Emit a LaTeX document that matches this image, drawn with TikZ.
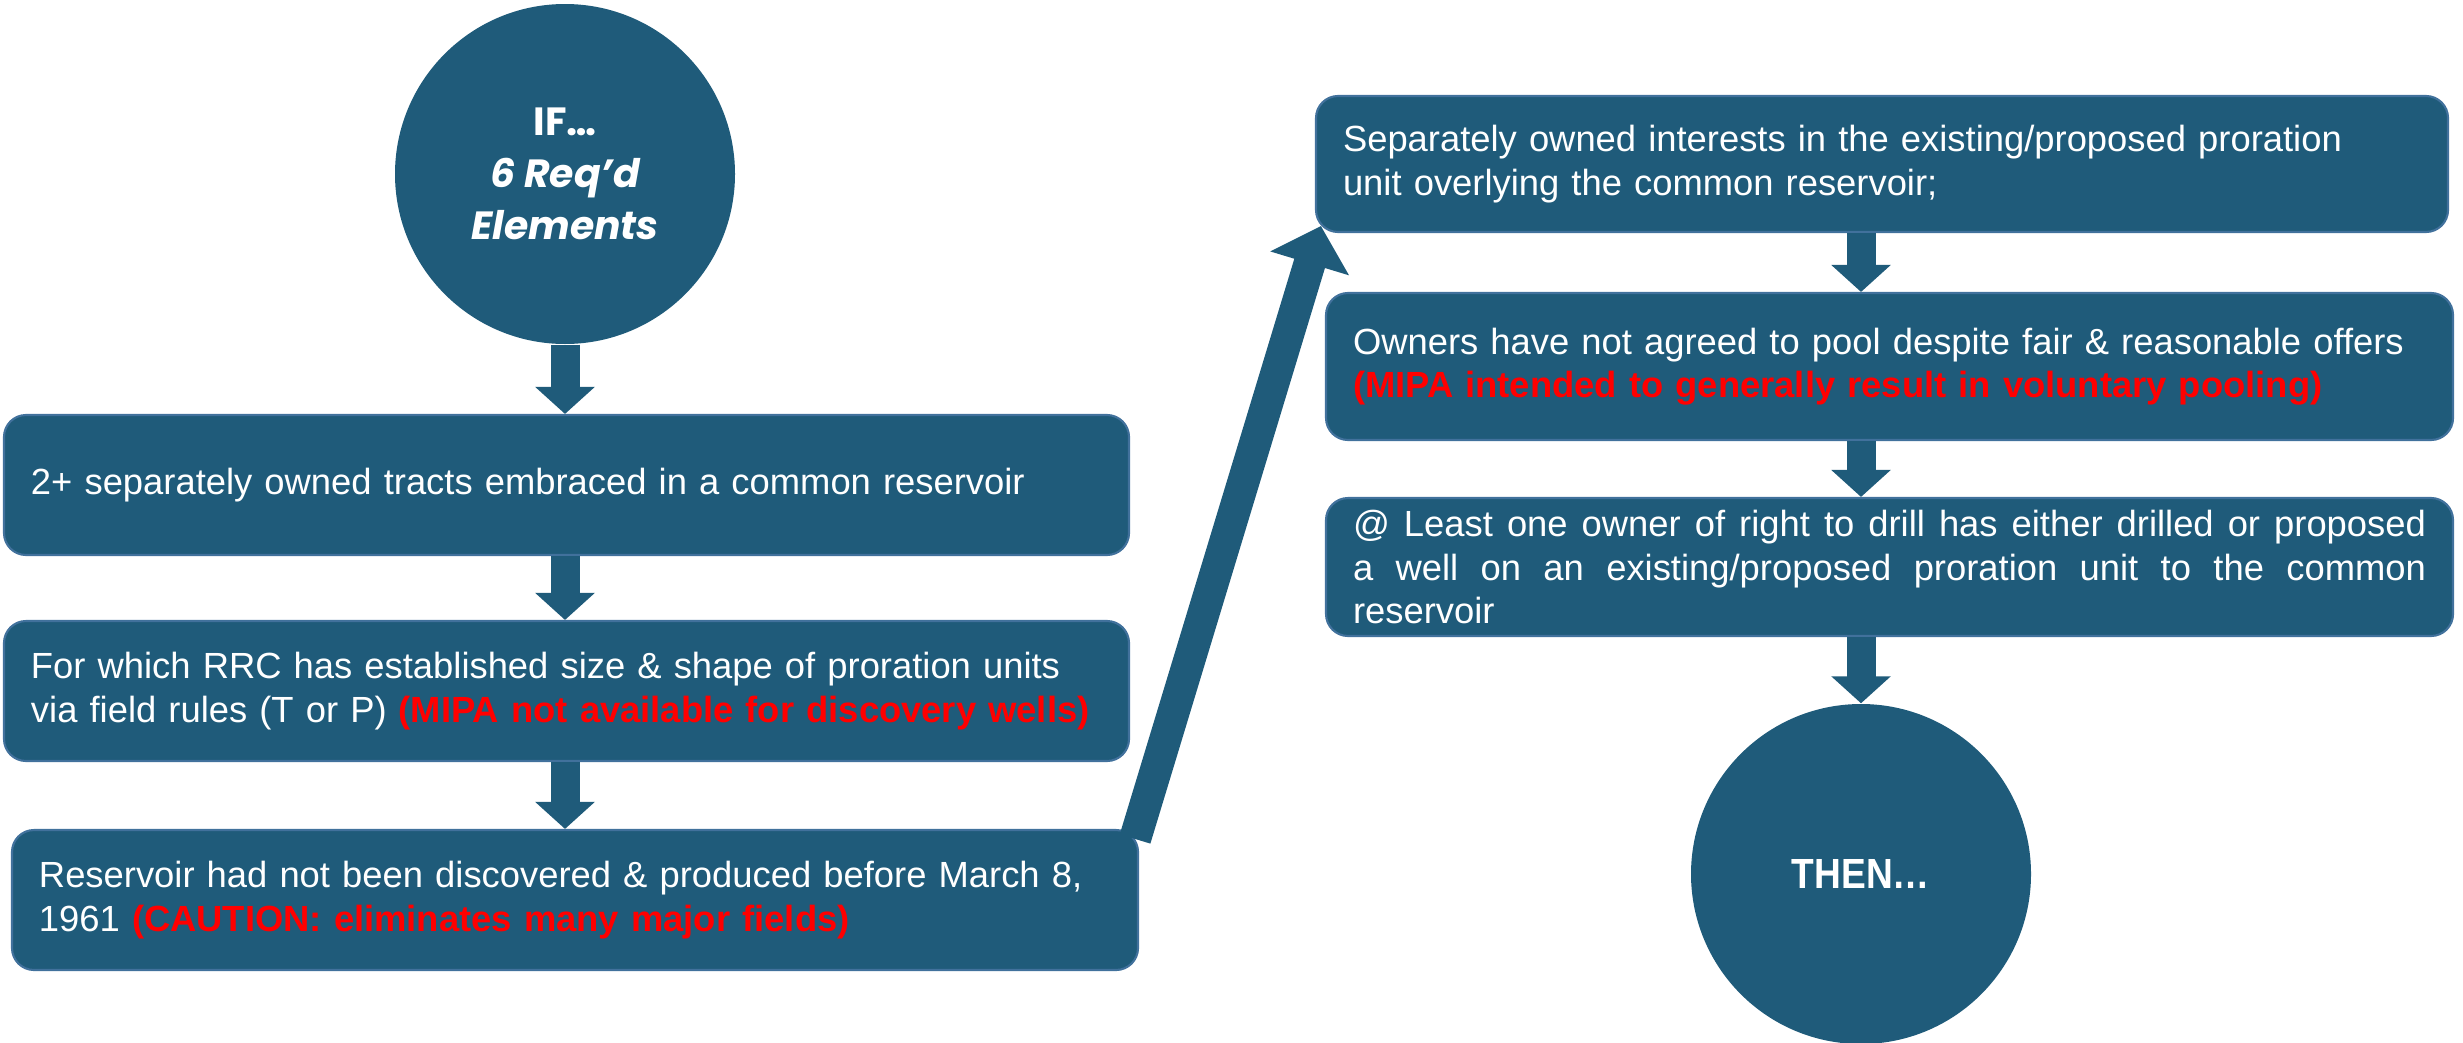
\documentclass[tikz,border=0pt]{standalone}
\usepackage{fontspec}
\setmainfont{Liberation Sans}
\newfontfamily\gothic{Poppins}
\usetikzlibrary{arrows.meta}

\definecolor{boxblue}{RGB}{31,91,122}
\definecolor{edgeblue}{RGB}{65,113,156}
\definecolor{warnred}{RGB}{255,0,0}
\newcommand{\warn}[1]{\textcolor{warnred}{\bfseries #1}}

\tikzset{
  stepbox/.style={draw=edgeblue, line width=0.6pt, fill=boxblue, rounded corners=0.22cm,
    text=white, inner xsep=0.27cm, inner ysep=0pt, align=left,
    font=\fontsize{10.35}{12.3}\selectfont},
  bubble/.style={circle, fill=boxblue, minimum size=3.4cm, inner sep=0pt,
    text=white, align=center},
  flow/.style={boxblue, line width=0.29cm, -{Triangle[width=0.58cm,length=0.27cm]}},
}

\begin{document}
\begin{tikzpicture}
  \useasboundingbox (0,0) rectangle (24.63,-10.42);

  % left column
  \node[bubble, font={\gothic\bfseries\fontsize{11.2}{14.8}\selectfont}] (if) at (5.65,-1.74)
    {IF…\\\itshape 6 Req’d\\\itshape Elements};
  \node[stepbox, minimum width=11.25cm, minimum height=1.4cm, text width=10.71cm] (b1) at (5.665,-4.85)
    {2+ separately owned tracts embraced in a common reservoir};
  \node[stepbox, minimum width=11.25cm, minimum height=1.4cm, text width=10.71cm] (b2) at (5.665,-6.91)
    {For which RRC has established size \& shape of proration units\\
     \mbox{via field rules (T or P) \warn{(MIPA not available for discovery wells)}}};
  \node[stepbox, minimum width=11.26cm, minimum height=1.4cm, text width=10.72cm] (b3) at (5.75,-9.00)
    {Reservoir had not been discovered \& produced before March 8,\\
     1961 \warn{(CAUTION: eliminates many major fields)}};

  % right column
  \node[stepbox, minimum width=11.32cm, minimum height=1.36cm, text width=10.78cm] (b4) at (18.82,-1.64)
    {Separately owned interests in the existing/proposed proration\\
     unit overlying the common reservoir;};
  \node[stepbox, minimum width=11.27cm, minimum height=1.47cm, text width=10.73cm] (b5) at (18.895,-3.665)
    {Owners have not agreed to pool despite fair \& reasonable offers\\
     \warn{(MIPA intended to generally result in voluntary pooling)}};
  \node[stepbox, minimum width=11.27cm, minimum height=1.38cm, text width=10.73cm, align=justify] (b6) at (18.895,-5.67)
    {@ Least one owner of right to drill has either drilled or proposed\linebreak
     a well on an existing/proposed proration unit to the common\linebreak
     reservoir};
  \node[bubble, font=\bfseries\fontsize{12}{14}\selectfont] (then) at (18.61,-8.74)
    {\scalebox{0.88}[1]{THEN…}};

  % block arrows
  \draw[flow] (if.south) -- (if |- b1.north);
  \draw[flow] (if |- b1.south) -- (if |- b2.north);
  \draw[flow] (if |- b2.south) -- (if |- b3.north);
  \draw[flow, line width=0.32cm, -{Triangle[width=0.8cm,length=0.39cm]}]
    ([shift={(-0.04,-0.1)}]b3.north east) -- ([shift={(0.06,0.07)}]b4.south west);
  \draw[flow] (then |- b4.south) -- (then |- b5.north);
  \draw[flow] (then |- b5.south) -- (then |- b6.north);
  \draw[flow] (then |- b6.south) -- (then.north);
\end{tikzpicture}
\end{document}
